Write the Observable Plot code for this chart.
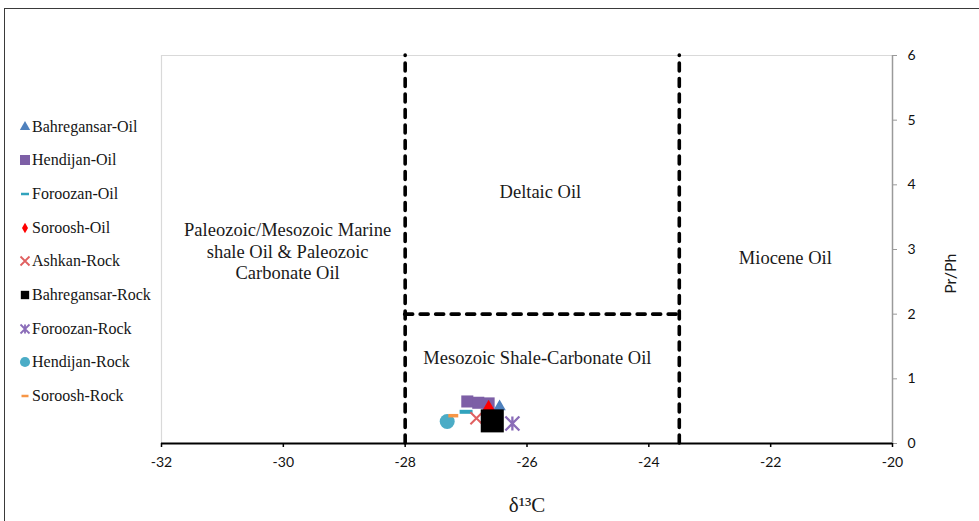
<!DOCTYPE html>
<html><head><meta charset="utf-8">
<script src="https://cdn.jsdelivr.net/npm/d3@7"></script>
<script src="https://cdn.jsdelivr.net/npm/@observablehq/plot@0.6"></script>
<style>
body{margin:0;background:#fff;}
#wrap{position:relative;width:979px;height:521px;overflow:hidden;background:#fff;}
#wrap > svg{position:absolute;left:0;top:0;}
#frame{position:absolute;left:4px;top:8px;width:1000px;height:540px;border-top:1.5px solid #3a3a3a;border-left:1.5px solid #3a3a3a;}
#legend{position:absolute;left:19px;top:110px;font-family:"Liberation Serif","Times New Roman",serif;font-size:16px;color:#151515;}
.item{height:33.66px;display:flex;align-items:center;white-space:nowrap;}
.item svg{width:12px;height:12px;margin-right:1px;overflow:visible;flex:none;}
</style></head><body>
<div id="wrap"><div id="frame"></div><div id="legend"></div></div>
<script>
// ---- data ----
const seriesNames = ["Bahregansar-Oil","Hendijan-Oil","Foroozan-Oil","Soroosh-Oil","Ashkan-Rock","Bahregansar-Rock","Foroozan-Rock","Hendijan-Rock","Soroosh-Rock"];
const seriesColors = ["#4f81bd","#7d5fa6","#31a3bd","#ff0000","#e06060","#000000","#8a6cb8","#4bacc6","#f79646"];

const bahregansarOil  = [{d13C:-26.45, prph:0.57}];
const hendijanOil     = [{d13C:-26.98, prph:0.65},{d13C:-26.80, prph:0.63},{d13C:-26.63, prph:0.62}];
const foroozanOil     = [{d13C:-27.00, prph:0.49}];
const sorooshOil      = [{d13C:-26.63, prph:0.51}];
const ashkanRock      = [{d13C:-26.83, prph:0.39}];
const bahregansarRock = [{d13C:-26.57, prph:0.35}];
const foroozanRock    = [{d13C:-26.24, prph:0.31}];
const hendijanRock    = [{d13C:-27.31, prph:0.34}];
const sorooshRock     = [{d13C:-27.21, prph:0.43}];

const boundaryX = [-28, -23.5];
const boundaryY = [2];
const zoneLabels = [
  {x:-29.93, y:2.98, text:"Paleozoic/Mesozoic Marine\nshale Oil & Paleozoic\nCarbonate Oil"},
  {x:-25.78, y:3.91, text:"Deltaic Oil"},
  {x:-21.76, y:2.88, text:"Miocene Oil"},
  {x:-25.83, y:1.33, text:"Mesozoic Shale-Carbonate Oil"}
];
const xTicks = [-32,-30,-28,-26,-24,-22,-20];
const yTicks = [0,1,2,3,4,5,6];

// ---- custom symbols ----
const dashSym = {draw(ctx,size){const w=Math.sqrt(size)/2; ctx.moveTo(-w,0); ctx.lineTo(w,0);}};
const timesSym = {draw(ctx,size){const r=Math.sqrt(size)/2; ctx.moveTo(-r,-r); ctx.lineTo(r,r); ctx.moveTo(-r,r); ctx.lineTo(r,-r);}};
const starSym = {draw(ctx,size){const r=Math.sqrt(size)/2; ctx.moveTo(-r,-r); ctx.lineTo(r,r); ctx.moveTo(-r,r); ctx.lineTo(r,-r); ctx.moveTo(0,-r); ctx.lineTo(0,r);}};

const dashed = {stroke:"#000", strokeWidth:3.6, strokeDasharray:"8,7.5", strokeLinecap:"round"};
const pos = {x:"d13C", y:"prph"};

const chart = Plot.plot({
  width:979, height:521,
  marginLeft:161, marginRight:87, marginTop:55, marginBottom:78,
  x:{domain:[-32,-20]},
  y:{domain:[0,6]},
  style:{background:"transparent", fontFamily:"Lato, 'Open Sans', sans-serif", color:"#111"},
  marks:[
    Plot.ruleY([6], {stroke:"#d9d9d9", strokeWidth:1.2}),
    Plot.ruleX([-32], {stroke:"#d9d9d9", strokeWidth:1.2}),
    Plot.ruleX([-20], {stroke:"#9a9a9a", strokeWidth:1.5}),
    Plot.axisY({anchor:"right", ticks:yTicks, tickSize:4, tickPadding:11, stroke:"#9a9a9a", fill:"#111", fontSize:14, tickFormat:d=>String(d), label:null}),
    Plot.axisX({anchor:"bottom", ticks:xTicks, tickSize:4, tickPadding:10, stroke:"#000", fill:"#111", strokeWidth:1.5, fontSize:14, tickFormat:d=>String(d), label:null}),
    Plot.ruleY([0], {stroke:"#000", strokeWidth:2}),
    Plot.ruleX(boundaryX, {x:d=>d, y1:0, y2:6, ...dashed}),
    Plot.ruleY(boundaryY, {y:d=>d, x1:boundaryX[0], x2:boundaryX[1], ...dashed}),
    Plot.text(zoneLabels, {x:"x", y:"y", text:"text", fontFamily:"'Liberation Serif', serif", fontSize:18.5, lineHeight:1.17, fill:"#1a1a1a", lineAnchor:"middle"}),
    Plot.text(["δ¹³C"], {text:d=>d, frameAnchor:"bottom", dy:62, fontFamily:"'Liberation Serif', serif", fontSize:21, fill:"#1a1a1a", lineAnchor:"middle"}),
    Plot.text(["Pr/Ph"], {text:d=>d, frameAnchor:"right", dx:58, dy:4, rotate:-90, fontSize:16, fill:"#1a1a1a", lineAnchor:"middle"}),
    // series (drawn in legend order)
    Plot.dot(bahregansarOil, {...pos, symbol:"triangle", r:4.6, fill:seriesColors[0], stroke:"none"}),
    Plot.dot(hendijanOil, {...pos, symbol:"square", r:6.8, fill:seriesColors[1], stroke:"none"}),
    Plot.dot(foroozanOil, {...pos, symbol:dashSym, r:7.3, fill:"none", stroke:seriesColors[2], strokeWidth:4}),
    Plot.dot(sorooshOil, {...pos, symbol:"diamond", r:6.5, fill:seriesColors[3], stroke:"none"}),
    Plot.dot(ashkanRock, {...pos, symbol:timesSym, r:6.8, fill:"none", stroke:seriesColors[4], strokeWidth:2}),
    Plot.dot(bahregansarRock, {...pos, symbol:"square", r:13, fill:seriesColors[5], stroke:"none"}),
    Plot.dot(foroozanRock, {...pos, symbol:starSym, r:7.9, fill:"none", stroke:seriesColors[6], strokeWidth:2.3}),
    Plot.dot(hendijanRock, {...pos, symbol:"circle", r:7.5, fill:seriesColors[7], stroke:"none"}),
    Plot.dot(sorooshRock, {...pos, symbol:dashSym, r:5.6, fill:"none", stroke:seriesColors[8], strokeWidth:3.5})
  ]
});
document.getElementById("wrap").appendChild(chart);

// ---- legend ----
const legendSymbols = [
  {type:d3.symbolTriangle, size:46, fill:true},
  {type:d3.symbolSquare, size:100, fill:true},
  {type:dashSym, size:64, fill:false, sw:2.5},
  {type:d3.symbolDiamond, size:32, fill:true},
  {type:timesSym, size:81, fill:false, sw:1.8},
  {type:d3.symbolSquare, size:70, fill:true},
  {type:starSym, size:81, fill:false, sw:1.8},
  {type:d3.symbolCircle, size:80, fill:true},
  {type:dashSym, size:49, fill:false, sw:2.5}
];
const legend = d3.select("#legend");
seriesNames.forEach((name,i)=>{
  const it = legend.append("div").attr("class","item");
  const s = it.append("svg").attr("viewBox","0 0 12 12");
  const ls = legendSymbols[i];
  s.append("path").attr("transform","translate(6,6)")
    .attr("d", d3.symbol(ls.type, ls.size)())
    .attr("fill", ls.fill ? seriesColors[i] : "none")
    .attr("stroke", ls.fill ? "none" : seriesColors[i])
    .attr("stroke-width", ls.sw || 0);
  it.append("span").text(name);
});
</script>
</body></html>
